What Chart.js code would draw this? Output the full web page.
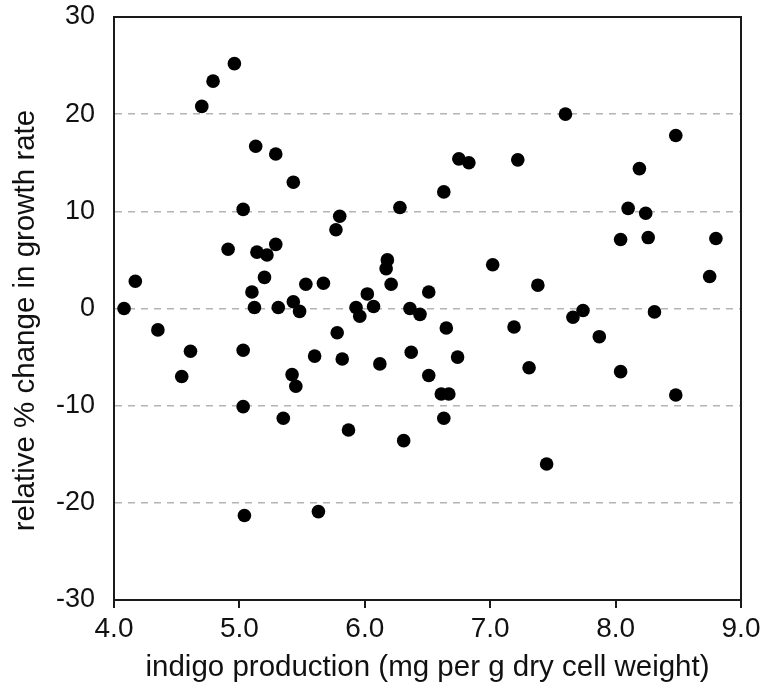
<!DOCTYPE html>
<html>
<head>
<meta charset="utf-8">
<style>
  html, body { margin: 0; padding: 0; background: #fff; }
  #wrap { width: 764px; height: 689px; }
</style>
<script src="https://cdn.jsdelivr.net/npm/chart.js@4/dist/chart.umd.min.js"></script>
</head>
<body>
<div id="wrap"><canvas id="scatterChart" width="764" height="689"></canvas></div>
<script>
  // indigo production (mg per g dry cell weight)
  var indigo = [
    4.08, 4.17, 4.35, 4.54, 4.61, 4.70, 4.79, 4.91, 4.96, 5.03,
    5.03, 5.03, 5.04, 5.10, 5.12, 5.13, 5.14, 5.20, 5.22, 5.29,
    5.29, 5.31, 5.35, 5.42, 5.43, 5.43, 5.45, 5.48, 5.53, 5.60,
    5.63, 5.67, 5.77, 5.78, 5.80, 5.82, 5.87, 5.93, 5.96, 6.02,
    6.07, 6.12, 6.17, 6.18, 6.21, 6.28, 6.31, 6.36, 6.37, 6.44,
    6.51, 6.51, 6.61, 6.63, 6.63, 6.65, 6.67, 6.74, 6.75, 6.83,
    7.02, 7.19, 7.22, 7.31, 7.38, 7.45, 7.60, 7.66, 7.74, 7.87,
    8.04, 8.04, 8.10, 8.19, 8.24, 8.26, 8.31, 8.48, 8.48, 8.75,
    8.80
  ];
  // relative % change in growth rate
  var growthChange = [
    0.0, 2.8, -2.2, -7.0, -4.4, 20.8, 23.4, 6.1, 25.2, 10.2,
    -4.3, -10.1, -21.3, 1.7, 0.1, 16.7, 5.8, 3.2, 5.5, 15.9,
    6.6, 0.1, -11.3, -6.8, 13.0, 0.7, -8.0, -0.3, 2.5, -4.9,
    -20.9, 2.6, 8.1, -2.5, 9.5, -5.2, -12.5, 0.1, -0.8, 1.5,
    0.2, -5.7, 4.1, 5.0, 2.5, 10.4, -13.6, 0.0, -4.5, -0.6,
    1.7, -6.9, -8.8, 12.0, -11.3, -2.0, -8.8, -5.0, 15.4, 15.0,
    4.5, -1.9, 15.3, -6.1, 2.4, -16.0, 20.0, -0.9, -0.2, -2.9,
    7.1, -6.5, 10.3, 14.4, 9.8, 7.3, -0.35, 17.8, -8.9, 3.3,
    7.2
  ];
  var xTicks = [4, 5, 6, 7, 8, 9];
  var yTicks = [-30, -20, -10, 0, 10, 20, 30];
  var yTitle = 'relative % change in growth rate';

  var FONT = "'Liberation Sans', Arial, sans-serif";
  var INK = '#111111';
  var GRID = '#b4b4b4';

  // full frame round the plot area (Chart.js only draws the axis sides)
  var plotFrame = {
    id: 'plotFrame',
    afterDraw: function (chart) {
      var a = chart.chartArea;
      var ctx = chart.ctx;
      ctx.save();
      ctx.strokeStyle = '#1a1a1a';
      ctx.lineWidth = 2;
      ctx.strokeRect(a.left, a.top, a.right - a.left, a.bottom - a.top);
      ctx.restore();
    }
  };

  // y title sits a little below the plot's middle in the original
  var yTitleLabel = {
    id: 'yTitleLabel',
    afterDraw: function (chart) {
      var a = chart.chartArea;
      var ctx = chart.ctx;
      ctx.save();
      ctx.translate(26, (a.top + a.bottom) / 2 + 12);
      ctx.rotate(-Math.PI / 2);
      ctx.font = '29.5px ' + FONT;
      ctx.fillStyle = INK;
      ctx.textAlign = 'center';
      ctx.textBaseline = 'middle';
      ctx.fillText(yTitle, 0, 0);
      ctx.restore();
    }
  };

  new Chart(document.getElementById('scatterChart'), {
    type: 'scatter',
    data: {
      datasets: [{
        data: indigo.map(function (x, i) { return { x: x, y: growthChange[i] }; }),
        backgroundColor: '#000000',
        borderColor: '#000000',
        borderWidth: 0,
        pointRadius: 6.8,
        pointHoverRadius: 6.8
      }]
    },
    options: {
      responsive: false,
      animation: false,
      layout: { padding: { top: 17, right: 23, bottom: 0, left: 0 } },
      plugins: { legend: { display: false }, tooltip: { enabled: false } },
      scales: {
        x: {
          type: 'linear',
          min: 4, max: 9,
          afterBuildTicks: function (s) { s.ticks = xTicks.map(function (v) { return { value: v }; }); },
          afterFit: function (s) { s.height = 89; s.paddingLeft = 0; s.paddingRight = 0; },
          grid: { drawOnChartArea: false, drawTicks: true, tickLength: 8, color: '#1a1a1a', lineWidth: 2 },
          border: { display: true, color: '#1a1a1a', width: 2 },
          ticks: {
            padding: 4,
            color: INK,
            font: { family: FONT, size: 28 },
            callback: function (v) { return Number(v).toFixed(1); }
          },
          title: {
            display: true,
            text: 'indigo production (mg per g dry cell weight)',
            color: INK,
            font: { family: FONT, size: 29.5 },
            padding: { top: 0, bottom: 3 }
          }
        },
        y: {
          type: 'linear',
          min: -30, max: 30,
          afterBuildTicks: function (s) { s.ticks = yTicks.map(function (v) { return { value: v }; }); },
          afterFit: function (s) { s.width = 114; s.paddingTop = 0; s.paddingBottom = 0; },
          grid: {
            drawTicks: false,
            lineWidth: 1.5,
            color: function (c) {
              var v = c.tick ? c.tick.value : null;
              return (v === 30 || v === -30) ? 'rgba(0,0,0,0)' : GRID;
            }
          },
          border: { display: true, color: '#1a1a1a', width: 2, dash: [7, 6] },
          ticks: {
            padding: 19,
            color: INK,
            font: { family: FONT, size: 27 }
          },
          title: { display: false }
        }
      }
    },
    plugins: [plotFrame, yTitleLabel]
  });
</script>
</body>
</html>
